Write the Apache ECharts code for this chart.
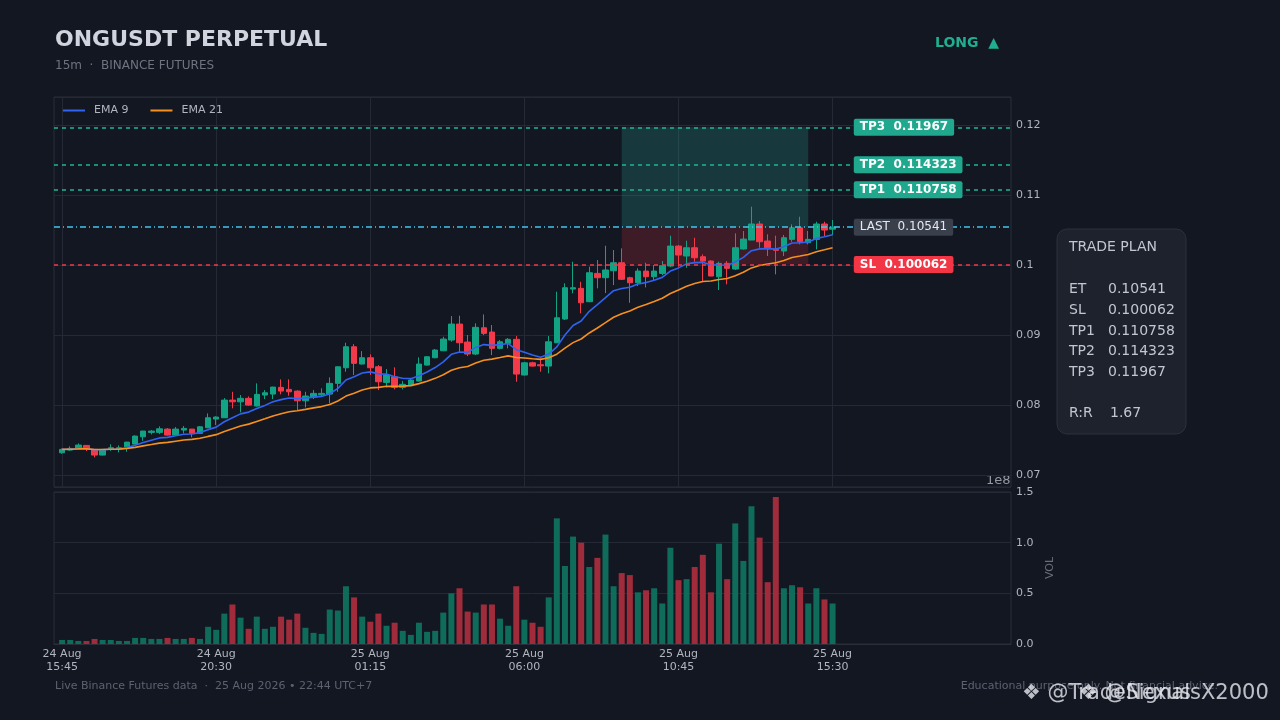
<!DOCTYPE html>
<html>
<head>
<meta charset="utf-8">
<title>ONGUSDT PERPETUAL</title>
<script src="https://cdn.jsdelivr.net/npm/echarts@6/dist/echarts.min.js"></script>
<style>
  html, body { margin: 0; padding: 0; background: #131722; }
  #chart { width: 1280px; height: 720px; }
</style>
</head>
<body>
<div id="chart"></div>
<script>
// 15m candles, 24 Aug 15:45 -> 25 Aug 15:30, [open, close, low, high]
const candles = [
  [0.07319, 0.07367, 0.07305, 0.07380], [0.07357, 0.07381, 0.07347, 0.07410],
  [0.07381, 0.07429, 0.07371, 0.07452], [0.07424, 0.07381, 0.07343, 0.07430],
  [0.07367, 0.07286, 0.07253, 0.07371], [0.07286, 0.07367, 0.07280, 0.07371],
  [0.07371, 0.07390, 0.07347, 0.07439], [0.07376, 0.07390, 0.07324, 0.07424],
  [0.07404, 0.07471, 0.07333, 0.07474], [0.07443, 0.07557, 0.07440, 0.07567],
  [0.07547, 0.07629, 0.07490, 0.07632], [0.07610, 0.07629, 0.07581, 0.07643],
  [0.07610, 0.07661, 0.07586, 0.07696], [0.07657, 0.07571, 0.07565, 0.07671],
  [0.07571, 0.07657, 0.07568, 0.07686], [0.07643, 0.07667, 0.07596, 0.07700],
  [0.07657, 0.07596, 0.07539, 0.07660], [0.07596, 0.07690, 0.07592, 0.07700],
  [0.07676, 0.07819, 0.07670, 0.07881], [0.07800, 0.07829, 0.07714, 0.07840],
  [0.07819, 0.08071, 0.07815, 0.08100], [0.08071, 0.08047, 0.07953, 0.08190],
  [0.08047, 0.08096, 0.07896, 0.08143], [0.08096, 0.08000, 0.07990, 0.08124],
  [0.07986, 0.08153, 0.07980, 0.08310], [0.08143, 0.08176, 0.08086, 0.08214],
  [0.08157, 0.08257, 0.08086, 0.08262], [0.08253, 0.08200, 0.08153, 0.08367],
  [0.08224, 0.08190, 0.08133, 0.08367], [0.08200, 0.08061, 0.07929, 0.08210],
  [0.08061, 0.08129, 0.07967, 0.08190], [0.08111, 0.08167, 0.08086, 0.08214],
  [0.08147, 0.08167, 0.08119, 0.08239], [0.08157, 0.08310, 0.08024, 0.08396],
  [0.08310, 0.08547, 0.08190, 0.08552], [0.08533, 0.08833, 0.08476, 0.08890],
  [0.08833, 0.08596, 0.08429, 0.08871], [0.08586, 0.08676, 0.08580, 0.08771],
  [0.08676, 0.08533, 0.08429, 0.08724], [0.08547, 0.08333, 0.08214, 0.08571],
  [0.08324, 0.08429, 0.08253, 0.08514], [0.08404, 0.08253, 0.08224, 0.08539],
  [0.08253, 0.08296, 0.08224, 0.08343], [0.08286, 0.08357, 0.08280, 0.08371],
  [0.08343, 0.08586, 0.08338, 0.08681], [0.08571, 0.08690, 0.08565, 0.08700],
  [0.08676, 0.08786, 0.08670, 0.08800], [0.08776, 0.08943, 0.08770, 0.08976],
  [0.08929, 0.09157, 0.08905, 0.09271], [0.09157, 0.08890, 0.08753, 0.09276],
  [0.08900, 0.08729, 0.08700, 0.09000], [0.08729, 0.09110, 0.08714, 0.09167],
  [0.09104, 0.09024, 0.09000, 0.09295], [0.09043, 0.08810, 0.08714, 0.09143],
  [0.08810, 0.08904, 0.08796, 0.08929], [0.08881, 0.08939, 0.08810, 0.08957],
  [0.08939, 0.08443, 0.08333, 0.08986], [0.08429, 0.08604, 0.08425, 0.08614],
  [0.08604, 0.08557, 0.08550, 0.08619], [0.08576, 0.08561, 0.08476, 0.08667],
  [0.08557, 0.08904, 0.08453, 0.08986], [0.08890, 0.09247, 0.08886, 0.09619],
  [0.09229, 0.09676, 0.09214, 0.09739], [0.09657, 0.09676, 0.09596, 0.10047],
  [0.09667, 0.09461, 0.09310, 0.09761], [0.09476, 0.09890, 0.09471, 0.09976],
  [0.09881, 0.09819, 0.09667, 0.10071], [0.09819, 0.09929, 0.09600, 0.10276],
  [0.09919, 0.10033, 0.09714, 0.10214], [0.10033, 0.09796, 0.09786, 0.10238],
  [0.09819, 0.09747, 0.09461, 0.09833], [0.09747, 0.09914, 0.09700, 0.09953],
  [0.09914, 0.09833, 0.09681, 0.10033], [0.09833, 0.09914, 0.09786, 0.10000],
  [0.09881, 0.09990, 0.09857, 0.10057], [0.09986, 0.10271, 0.09971, 0.10419],
  [0.10271, 0.10143, 0.09976, 0.10286], [0.10129, 0.10247, 0.09961, 0.10347],
  [0.10247, 0.10104, 0.10047, 0.10390], [0.10119, 0.10057, 0.09771, 0.10152],
  [0.10057, 0.09843, 0.09840, 0.10067], [0.09833, 0.10024, 0.09643, 0.10047],
  [0.10024, 0.09953, 0.09724, 0.10057], [0.09943, 0.10247, 0.09929, 0.10452],
  [0.10229, 0.10371, 0.10220, 0.10486], [0.10357, 0.10586, 0.10357, 0.10833],
  [0.10586, 0.10333, 0.10247, 0.10629], [0.10343, 0.10247, 0.10129, 0.10439],
  [0.10224, 0.10210, 0.09867, 0.10419], [0.10200, 0.10390, 0.10129, 0.10429],
  [0.10367, 0.10533, 0.10333, 0.10581], [0.10533, 0.10333, 0.10296, 0.10690],
  [0.10319, 0.10367, 0.10296, 0.10486], [0.10367, 0.10586, 0.10224, 0.10619],
  [0.10586, 0.10500, 0.10414, 0.10619], [0.10512, 0.10541, 0.10429, 0.10643]
];

// volume per candle, in units of 1e8
const volumes = [
  0.04, 0.04, 0.03, 0.03, 0.05, 0.04, 0.04, 0.03, 0.03, 0.06,
  0.06, 0.05, 0.05, 0.06, 0.05, 0.05, 0.06, 0.05, 0.17, 0.14,
  0.30, 0.39, 0.26, 0.15, 0.27, 0.15, 0.17, 0.27, 0.24, 0.30,
  0.16, 0.11, 0.10, 0.34, 0.33, 0.57, 0.46, 0.27, 0.22, 0.30,
  0.18, 0.21, 0.13, 0.09, 0.21, 0.12, 0.13, 0.31, 0.50, 0.55,
  0.32, 0.31, 0.39, 0.39, 0.25, 0.18, 0.57, 0.24, 0.21, 0.17,
  0.46, 1.24, 0.77, 1.06, 1.00, 0.76, 0.85, 1.08, 0.57, 0.70,
  0.68, 0.51, 0.53, 0.55, 0.40, 0.95, 0.63, 0.64, 0.76, 0.88,
  0.51, 0.99, 0.64, 1.19, 0.82, 1.36, 1.05, 0.61, 1.45, 0.55,
  0.58, 0.56, 0.40, 0.55, 0.44, 0.40
];

// x tick labels sit every 19 candles (4h45m)
const tickCandles = [0, 19, 38, 57, 76, 95];
const tickLabels = ['24 Aug\n15:45', '24 Aug\n20:30', '25 Aug\n01:15', '25 Aug\n06:00', '25 Aug\n10:45', '25 Aug\n15:30'];

// trade plan levels
const levelNames = ['TP3', 'TP2', 'TP1', 'LAST', 'SL'];
const levelValues = [0.11967, 0.114323, 0.110758, 0.10541, 0.100062];
const entry = 0.10541;
const stopLoss = 0.100062;
const target3 = 0.11967;
const riskReward = 1.67;
const planNames = ['ET', 'SL', 'TP1', 'TP2', 'TP3'];
const planValues = [0.10541, 0.100062, 0.110758, 0.114323, 0.11967];

// candle span of the shaded trade zone, and where the level tags sit
const zoneStart = 69;
const zoneEnd = 92;
const tagCandle = 97;

// x axis runs one slot before the first candle to well past the last
const firstSlot = -1;
const lastSlot = 117;

const UP = '#12a384', DOWN = '#f23a4b';
const VOL_UP = '#0f6b5a', VOL_DOWN = '#a02c3b';
const GRID = '#252936', TEXT = '#b2b5be';
const FONT = 'DejaVu Sans';

function ema(src, n) {
  const k = 2 / (n + 1);
  let prev = src[0];
  return src.map((v, i) => {
    prev = i === 0 ? v : v * k + prev * (1 - k);
    return +prev.toFixed(6);
  });
}

const slots = [];
for (let p = firstSlot; p <= lastSlot; p++) slots.push(String(p));
const slotOf = i => i - firstSlot;
const tickMap = {};
tickCandles.forEach((c, j) => { tickMap[String(c)] = tickLabels[j]; });

const closes = candles.map(c => c[1]);
const ema9 = ema(closes, 9);
const ema21 = ema(closes, 21);

const candleData = candles.map((c, i) => [slotOf(i), c[0], c[1], c[2], c[3]]);
const volData = volumes.map((v, i) => ({
  value: [slotOf(i), v],
  itemStyle: { color: candles[i][1] >= candles[i][0] ? VOL_UP : VOL_DOWN }
}));

const levelStyle = {
  TP3: { line: '#20b597', bg: '#1fa88e', fg: '#ffffff', weight: 'bold', type: [4, 4] },
  TP2: { line: '#20b597', bg: '#1fa88e', fg: '#ffffff', weight: 'bold', type: [4, 4] },
  TP1: { line: '#20b597', bg: '#1fa88e', fg: '#ffffff', weight: 'bold', type: [4, 4] },
  LAST: { line: '#45c3ec', bg: '#3a3f4c', fg: '#e6e8ee', weight: 'normal', type: [6, 3, 1, 3] },
  SL: { line: '#f23a4b', bg: '#f23645', fg: '#ffffff', weight: 'bold', type: [4, 4] }
};

const markLines = levelNames.map((n, j) => ({
  yAxis: levelValues[j],
  lineStyle: { color: levelStyle[n].line, type: levelStyle[n].type, width: 1.5, opacity: 1 }
}));

const markPoints = levelNames.map((n, j) => ({
  coord: [slotOf(tagCandle), levelValues[j]],
  symbol: 'rect',
  symbolSize: 0,
  label: {
    show: true,
    position: 'right',
    distance: 5,
    formatter: n + '  ' + levelValues[j],
    backgroundColor: levelStyle[n].bg,
    color: levelStyle[n].fg,
    fontWeight: levelStyle[n].weight,
    fontFamily: FONT,
    fontSize: 12,
    padding: [3, 6, 2, 6],
    borderRadius: 2
  }
}));

const chart = echarts.init(document.getElementById('chart'));

const planRowsY = [289, 310, 331, 351, 372];
const graphics = [
  { type: 'text', x: 55, y: 40, style: { text: 'ONGUSDT PERPETUAL', fill: '#d1d4dc', fontSize: 22, fontWeight: 'bold', fontFamily: FONT, verticalAlign: 'middle' } },
  { type: 'text', x: 55, y: 66, style: { text: '15m  ·  BINANCE FUTURES', fill: '#6f7380', fontSize: 12, fontFamily: FONT, verticalAlign: 'middle' } },
  { type: 'text', x: 935, y: 43, style: { text: 'LONG  ▲', fill: '#1fae8f', fontSize: 14, fontWeight: 'bold', fontFamily: FONT, verticalAlign: 'middle' } },
  { type: 'text', x: 986, y: 481, style: { text: '1e8', fill: '#9598a1', fontSize: 13, fontFamily: FONT, verticalAlign: 'middle' } },
  { type: 'rect', shape: { x: 1057, y: 229, width: 129, height: 205, r: 10 }, style: { fill: '#1e222d', stroke: '#2c303c', lineWidth: 1 } },
  { type: 'text', x: 1069, y: 247, style: { text: 'TRADE PLAN', fill: '#c3c6ce', fontSize: 14, fontFamily: FONT, verticalAlign: 'middle' } },
  { type: 'text', x: 1069, y: 413, style: { text: 'R:R', fill: '#c3c6ce', fontSize: 14, fontFamily: FONT, verticalAlign: 'middle' } },
  { type: 'text', x: 1110, y: 413, style: { text: String(riskReward), fill: '#c3c6ce', fontSize: 14, fontFamily: FONT, verticalAlign: 'middle' } },
  { type: 'text', x: 55, y: 686, style: { text: 'Live Binance Futures data  ·  25 Aug 2026 • 22:44 UTC+7', fill: '#5d6170', fontSize: 11, fontFamily: FONT, verticalAlign: 'middle' } },
  { type: 'text', x: 1218, y: 686, style: { text: 'Educational purpose only. Not financial advice.', fill: '#5d6170', fontSize: 11, fontFamily: FONT, align: 'right', verticalAlign: 'middle' } },
  // two overlapping watermarks, as in the source image
  { type: 'text', x: 1022, y: 694, style: { text: '❖ @TradeNexus', fill: 'rgba(232,234,240,0.8)', fontSize: 21, fontFamily: FONT, verticalAlign: 'middle' } },
  { type: 'text', x: 1079, y: 694, style: { text: '❖ @SignalsX2000', fill: 'rgba(232,234,240,0.8)', fontSize: 21, fontFamily: FONT, verticalAlign: 'middle' } }
];
planNames.forEach((n, j) => {
  graphics.push({ type: 'text', x: 1069, y: planRowsY[j], style: { text: n, fill: '#c3c6ce', fontSize: 14, fontFamily: FONT, verticalAlign: 'middle' } });
  graphics.push({ type: 'text', x: 1108, y: planRowsY[j], style: { text: String(planValues[j]), fill: '#c3c6ce', fontSize: 14, fontFamily: FONT, verticalAlign: 'middle' } });
});

const splitEvery = (idx, val) => Object.prototype.hasOwnProperty.call(tickMap, val);

chart.setOption({
  backgroundColor: '#131722',
  animation: false,
  textStyle: { fontFamily: FONT },
  legend: {
    left: 63, top: 105, padding: 0,
    data: ['EMA 9', 'EMA 21'],
    icon: 'rect', itemWidth: 22, itemHeight: 2, itemGap: 22,
    textStyle: { color: TEXT, fontSize: 11, padding: [0, 0, 0, 4] }
  },
  grid: [
    { left: 54, right: 269, top: 97, height: 390, show: true, borderColor: '#2a2e39', backgroundColor: 'transparent' },
    { left: 54, right: 269, top: 492, height: 152, show: true, borderColor: '#2a2e39', backgroundColor: 'transparent' }
  ],
  xAxis: [
    {
      type: 'category', gridIndex: 0, data: slots, boundaryGap: false,
      axisLine: { show: false }, axisTick: { show: false }, axisLabel: { show: false },
      splitLine: { show: true, interval: splitEvery, lineStyle: { color: GRID } }
    },
    {
      type: 'category', gridIndex: 1, data: slots, boundaryGap: false,
      axisLine: { lineStyle: { color: '#2a2e39' } }, axisTick: { show: false },
      axisLabel: {
        interval: splitEvery, margin: 4, color: TEXT, fontSize: 11, lineHeight: 13,
        formatter: v => tickMap[v] || ''
      },
      splitLine: { show: false }
    }
  ],
  yAxis: [
    {
      type: 'value', gridIndex: 0, position: 'right', min: 0.0683, max: 0.124, splitNumber: 5,
      axisLine: { show: false }, axisTick: { show: false },
      axisLabel: {
        color: TEXT, fontSize: 11, margin: 5,
        formatter: v => (Math.abs(v * 100 - Math.round(v * 100)) < 1e-6 ? String(+v.toFixed(2)) : '')
      },
      splitLine: { lineStyle: { color: GRID } }
    },
    {
      type: 'value', gridIndex: 1, position: 'right', min: 0, max: 1.5, interval: 0.5,
      name: 'VOL', nameLocation: 'middle', nameRotate: 90, nameGap: 28,
      nameTextStyle: { color: '#6b6f7b', fontSize: 11 },
      axisLine: { show: false }, axisTick: { show: false },
      axisLabel: { color: TEXT, fontSize: 11, margin: 5, formatter: v => v.toFixed(1) },
      splitLine: { lineStyle: { color: GRID } }
    }
  ],
  series: [
    {
      name: 'ONGUSDT', type: 'candlestick', xAxisIndex: 0, yAxisIndex: 0,
      data: candleData, encode: { x: 0, y: [1, 2, 3, 4] },
      barWidth: 6,
      itemStyle: { color: UP, color0: DOWN, borderColor: UP, borderColor0: DOWN, borderWidth: 1 },
      markArea: {
        silent: true,
        data: [
          [{ xAxis: slotOf(zoneStart), yAxis: entry, itemStyle: { color: 'rgba(38,166,154,0.24)' } }, { xAxis: slotOf(zoneEnd), yAxis: target3 }],
          [{ xAxis: slotOf(zoneStart), yAxis: stopLoss, itemStyle: { color: 'rgba(242,54,69,0.19)' } }, { xAxis: slotOf(zoneEnd), yAxis: entry }]
        ]
      },
      markLine: { silent: true, symbol: 'none', precision: 6, label: { show: false }, data: markLines },
      markPoint: { silent: true, data: markPoints, z: 10 }
    },
    {
      name: 'EMA 9', type: 'line', xAxisIndex: 0, yAxisIndex: 0,
      data: ema9.map((v, i) => [slotOf(i), v]),
      showSymbol: false, smooth: false, color: '#2f63f0', lineStyle: { width: 1.6 }
    },
    {
      name: 'EMA 21', type: 'line', xAxisIndex: 0, yAxisIndex: 0,
      data: ema21.map((v, i) => [slotOf(i), v]),
      showSymbol: false, smooth: false, color: '#f5901e', lineStyle: { width: 1.6 }
    },
    {
      name: 'Volume', type: 'bar', xAxisIndex: 1, yAxisIndex: 1,
      data: volData, barWidth: 6
    }
  ],
  graphic: graphics
});
</script>
</body>
</html>
